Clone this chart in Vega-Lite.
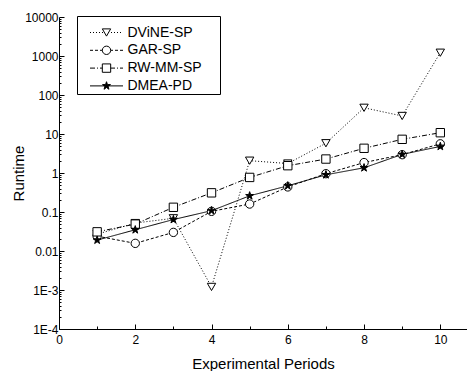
{
  "$schema": "https://vega.github.io/schema/vega-lite/v6.json",
  "width": 408,
  "height": 312,
  "autosize": "none",
  "padding": {"left": 59, "top": 17, "right": 0, "bottom": 42},
  "background": "white",
  "config": {
    "view": {"stroke": null},
    "font": "Liberation Sans",
    "axis": {
      "grid": false,
      "domainColor": "black",
      "tickColor": "black",
      "labelColor": "black",
      "titleColor": "black",
      "labelFont": "Liberation Sans",
      "titleFont": "Liberation Sans",
      "labelFontSize": 12,
      "titleFontSize": 15,
      "titleFontWeight": "normal",
      "labelFlush": false,
      "labelOverlap": false
    }
  },
  "data": {
    "values": [
      {"period": 1, "series": "DViNE-SP", "runtime": 0.027},
      {"period": 2, "series": "DViNE-SP", "runtime": 0.052},
      {"period": 3, "series": "DViNE-SP", "runtime": 0.069},
      {"period": 4, "series": "DViNE-SP", "runtime": 0.0012},
      {"period": 5, "series": "DViNE-SP", "runtime": 2.07},
      {"period": 6, "series": "DViNE-SP", "runtime": 1.75},
      {"period": 7, "series": "DViNE-SP", "runtime": 5.8},
      {"period": 8, "series": "DViNE-SP", "runtime": 47},
      {"period": 9, "series": "DViNE-SP", "runtime": 29},
      {"period": 10, "series": "DViNE-SP", "runtime": 1215},
      {"period": 1, "series": "GAR-SP", "runtime": 0.024},
      {"period": 2, "series": "GAR-SP", "runtime": 0.0157},
      {"period": 3, "series": "GAR-SP", "runtime": 0.03},
      {"period": 4, "series": "GAR-SP", "runtime": 0.104},
      {"period": 5, "series": "GAR-SP", "runtime": 0.16},
      {"period": 6, "series": "GAR-SP", "runtime": 0.44},
      {"period": 7, "series": "GAR-SP", "runtime": 0.96},
      {"period": 8, "series": "GAR-SP", "runtime": 1.85},
      {"period": 9, "series": "GAR-SP", "runtime": 2.95},
      {"period": 10, "series": "GAR-SP", "runtime": 5.6},
      {"period": 1, "series": "RW-MM-SP", "runtime": 0.031},
      {"period": 2, "series": "RW-MM-SP", "runtime": 0.049},
      {"period": 3, "series": "RW-MM-SP", "runtime": 0.132},
      {"period": 4, "series": "RW-MM-SP", "runtime": 0.31},
      {"period": 5, "series": "RW-MM-SP", "runtime": 0.77},
      {"period": 6, "series": "RW-MM-SP", "runtime": 1.54},
      {"period": 7, "series": "RW-MM-SP", "runtime": 2.28},
      {"period": 8, "series": "RW-MM-SP", "runtime": 4.3},
      {"period": 9, "series": "RW-MM-SP", "runtime": 7.3},
      {"period": 10, "series": "RW-MM-SP", "runtime": 10.8},
      {"period": 1, "series": "DMEA-PD", "runtime": 0.019},
      {"period": 2, "series": "DMEA-PD", "runtime": 0.035},
      {"period": 3, "series": "DMEA-PD", "runtime": 0.064},
      {"period": 4, "series": "DMEA-PD", "runtime": 0.108},
      {"period": 5, "series": "DMEA-PD", "runtime": 0.26},
      {"period": 6, "series": "DMEA-PD", "runtime": 0.47},
      {"period": 7, "series": "DMEA-PD", "runtime": 0.9},
      {"period": 8, "series": "DMEA-PD", "runtime": 1.36},
      {"period": 9, "series": "DMEA-PD", "runtime": 3.0},
      {"period": 10, "series": "DMEA-PD", "runtime": 4.8}
    ]
  },
  "encoding": {
    "x": {
      "field": "period",
      "type": "quantitative",
      "scale": {"domain": [0, 10.7], "nice": false, "zero": false},
      "axis": {
        "title": "Experimental Periods",
        "values": [0, 1, 2, 3, 4, 5, 6, 7, 8, 9, 10],
        "labelExpr": "datum.value % 2 === 0 ? datum.label : ''",
        "tickSize": {"condition": {"test": "datum.value % 2 === 0", "value": -5}, "value": -3},
        "labelPadding": 10,
        "titlePadding": 9
      }
    },
    "y": {
      "field": "runtime",
      "type": "quantitative",
      "scale": {"type": "log", "domain": [0.0001, 10000], "nice": false},
      "axis": {
        "title": "Runtime",
        "values": [0.0001, 0.0002, 0.0003, 0.0004, 0.0005, 0.0006, 0.0007, 0.0008, 0.0009,
                   0.001, 0.002, 0.003, 0.004, 0.005, 0.006, 0.007, 0.008, 0.009,
                   0.01, 0.02, 0.03, 0.04, 0.05, 0.06, 0.07, 0.08, 0.09,
                   0.1, 0.2, 0.3, 0.4, 0.5, 0.6, 0.7, 0.8, 0.9,
                   1, 2, 3, 4, 5, 6, 7, 8, 9,
                   10, 20, 30, 40, 50, 60, 70, 80, 90,
                   100, 200, 300, 400, 500, 600, 700, 800, 900,
                   1000, 2000, 3000, 4000, 5000, 6000, 7000, 8000, 9000, 10000],
        "labelExpr": "abs(log(datum.value)/LN10 - round(log(datum.value)/LN10)) < 0.001 ? (datum.value >= 0.01 ? format(datum.value, '~g') : '1E' + round(log(datum.value)/LN10)) : ''",
        "tickSize": {"condition": {"test": "abs(log(datum.value)/LN10 - round(log(datum.value)/LN10)) < 0.001", "value": -5}, "value": -2},
        "labelPadding": 6,
        "titlePadding": -2
      }
    }
  },
  "layer": [
    {
      "mark": {"type": "line", "strokeWidth": 1, "color": "black"},
      "encoding": {
        "strokeDash": {
          "field": "series",
          "type": "nominal",
          "scale": {
            "domain": ["DViNE-SP", "GAR-SP", "RW-MM-SP", "DMEA-PD"],
            "range": [[1, 2], [3, 2], [5, 2, 1, 2], [1, 0]]
          },
          "legend": {
            "orient": "none",
            "legendX": 18,
            "legendY": -1,
            "title": " ",
            "titleFontSize": 7,
            "titlePadding": 1.5,
            "padding": 1,
            "strokeColor": "black",
            "symbolType": "M-3.3,0H3.3M22,0",
            "symbolSize": 100,
            "symbolStrokeColor": "black",
            "symbolStrokeWidth": 1,
            "symbolOffset": 21.5,
            "labelOffset": 14,
            "labelFont": "Liberation Sans",
            "labelFontSize": 14,
            "labelColor": "black",
            "rowPadding": 3.8
          }
        }
      }
    },
    {
      "mark": {"type": "point", "filled": true, "size": 70, "stroke": "black", "strokeWidth": 1, "opacity": 1},
      "encoding": {
        "shape": {
          "field": "series",
          "type": "nominal",
          "sort": ["DViNE-SP", "GAR-SP", "RW-MM-SP", "DMEA-PD"],
          "scale": {"range": ["triangle-down", "circle", "square", "M0,-1L0.225,-0.309L0.951,-0.309L0.363,0.118L0.588,0.809L0,0.382L-0.588,0.809L-0.363,0.118L-0.951,-0.309L-0.225,-0.309Z"]},
          "legend": null
        },
        "fill": {
          "field": "series",
          "type": "nominal",
          "sort": ["DViNE-SP", "GAR-SP", "RW-MM-SP", "DMEA-PD"],
          "scale": {"range": ["white", "white", "white", "black"]},
          "legend": {
            "orient": "none",
            "legendX": 18,
            "legendY": -1,
            "title": " ",
            "titleFontSize": 7,
            "titlePadding": 1.5,
            "padding": 1,
            "symbolSize": 70,
            "symbolStrokeColor": "black",
            "symbolStrokeWidth": 1,
            "symbolOpacity": 1,
            "symbolOffset": 21.5,
            "labelFontSize": 14,
            "labelExpr": "''",
            "rowPadding": 3.8,
            "encode": {"symbols": {"update": {"shape": {"signal": "datum.value === 'DViNE-SP' ? 'triangle-down' : datum.value === 'GAR-SP' ? 'circle' : datum.value === 'RW-MM-SP' ? 'square' : 'M0,-1L0.225,-0.309L0.951,-0.309L0.363,0.118L0.588,0.809L0,0.382L-0.588,0.809L-0.363,0.118L-0.951,-0.309L-0.225,-0.309Z'"}}}}
          }
        }
      }
    }
  ]
}
